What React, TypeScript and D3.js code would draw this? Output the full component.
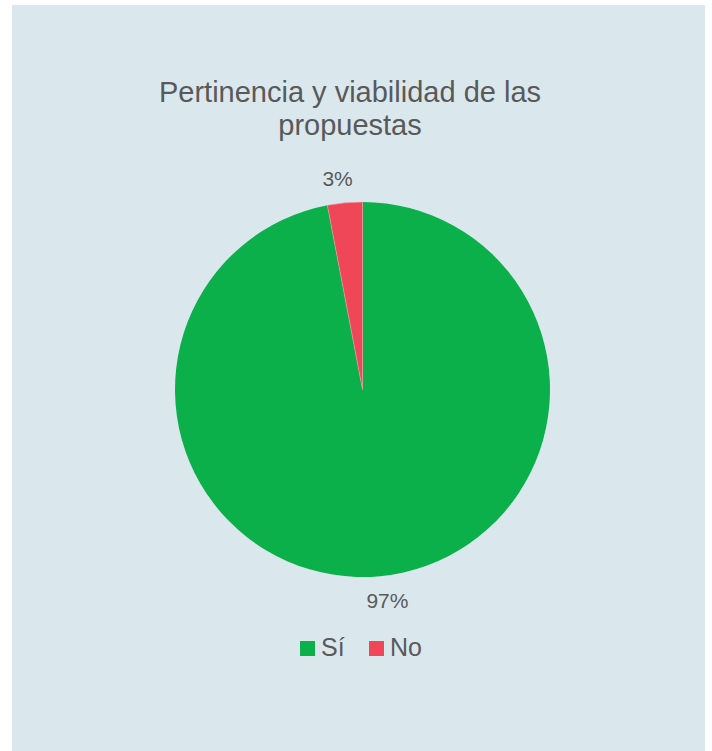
import React from "react";
import * as d3 from "d3";

const categories = ["Sí", "No"];
const values = [97, 3];
const colors = ["#0BB04A", "#EF4757"];
const titleLines = ["Pertinencia y viabilidad de las", "propuestas"];

export default function App() {
  const W = 712, H = 751;
  const cx = 362.5, cy = 389.5, R = 187.5;
  const pie = d3.pie<number>().sort(null).value((d) => d)(values);
  const arc = d3.arc<d3.PieArcDatum<number>>().innerRadius(0).outerRadius(R);
  const total = d3.sum(values);
  const labelR = 212;
  const font = "'Liberation Sans', Arial, Helvetica, sans-serif";
  const legendX = 300, legendY = 641;
  const legendGap = 69;
  return (
    <svg width={W} height={H} style={{ position: "absolute", left: 0, top: 0 }} fontFamily={font}>
      <rect x={12} y={5} width={693} height={746} fill="#DAE8EE" />
      <text textAnchor="middle" fill="#595959" fontSize={29}>
        {titleLines.map((t, i) => (
          <tspan key={i} x={350} y={102 + i * 33}>{t}</tspan>
        ))}
      </text>
      <g transform={`translate(${cx},${cy})`}>
        {pie.map((d, i) => (
          <path key={i} d={arc(d) || ""} fill={colors[i]} stroke="#F3A0A8" strokeWidth={i === 1 ? 0.6 : 0} />
        ))}
        {pie.map((d, i) => {
          const a = (d.startAngle + d.endAngle) / 2;
          const s = Math.sin(a), c = Math.cos(a);
          const x = s * labelR + Math.sign(s) * 5;
          const y = -c * labelR;
          return (
            <text key={i} x={x} y={y} dy="0.35em" textAnchor="middle" fill="#595959" fontSize={21}>
              {`${Math.round((values[i] / total) * 100)}%`}
            </text>
          );
        })}
      </g>
      {categories.map((cat, i) => (
        <g key={cat} transform={`translate(${legendX + i * legendGap},${legendY})`}>
          <rect width={15} height={15} fill={colors[i]} />
          <text x={21} y={15} fill="#595959" fontSize={25}>{cat}</text>
        </g>
      ))}
    </svg>
  );
}
